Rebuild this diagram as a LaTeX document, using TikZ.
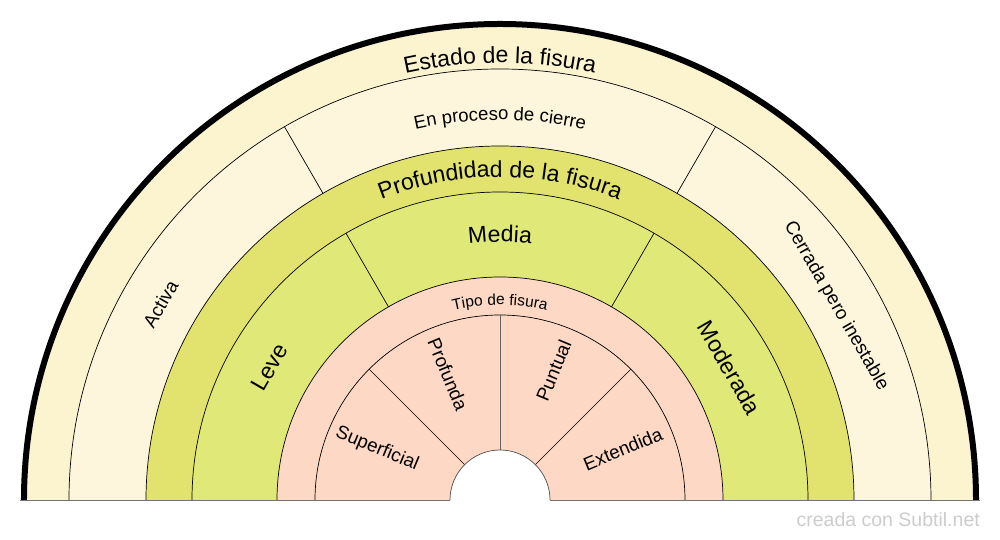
\documentclass[tikz,border=0pt]{standalone}
\usepackage{fontspec}
\setmainfont{Liberation Sans}
\usetikzlibrary{decorations.text}

\definecolor{estadoband}{HTML}{FCF3CF}
\definecolor{estadoring}{HTML}{FDF6DD}
\definecolor{profband}{HTML}{E1E36E}
\definecolor{profring}{HTML}{E0E977}
\definecolor{tipofill}{HTML}{FDD8C4}

% curved label: radius, font, text
\newcommand{\arclabel}[3]{%
  \path[decorate, decoration={text along path, text align=center, text={|#2|#3}}]
    (120:#1) arc[start angle=120, end angle=60, radius=#1];}

\begin{document}
\begin{tikzpicture}[x=1pt, y=1pt,
    ring/.style={draw=black, line width=0.7pt},
    small/.style={font=\fontsize{18.8}{18.8}\selectfont, inner sep=0pt},
    big/.style={font=\fontsize{23}{23}\selectfont, inner sep=0pt}]
    \useasboundingbox (-500,-40) rectangle (500,500);
    % rings, outside in
    \fill[estadoband] (-473,0) arc[start angle=180, end angle=0, radius=473];
    \filldraw[fill=estadoring, ring] (-431,0) arc[start angle=180, end angle=0, radius=431];
    \filldraw[fill=profband, ring] (-354,0) arc[start angle=180, end angle=0, radius=354];
    \filldraw[fill=profring, ring] (-308,0) arc[start angle=180, end angle=0, radius=308];
    \filldraw[fill=tipofill, ring] (-223,0) arc[start angle=180, end angle=0, radius=223];
    \draw[ring] (-185,0) arc[start angle=180, end angle=0, radius=185];
    % dividers
    \foreach \a in {60,120} \draw[ring] (\a:354) -- (\a:431);
    \foreach \a in {60,120} \draw[ring] (\a:223) -- (\a:308);
    \foreach \a in {45,135} \draw[ring] (\a:50) -- (\a:185);
    \draw[ring, draw=black!60] (90:50) -- (90:185);
    % hole
    \filldraw[fill=white, ring, draw=black!70] (-50,0) arc[start angle=180, end angle=0, radius=50];
    % outer rim and base line
    \draw[line width=6pt] (-476,0) arc[start angle=180, end angle=0, radius=476];
    \draw[black!55, line width=0.8pt] (-480,0) -- (-50,0);
    \draw[black!55, line width=0.8pt] (50,0) -- (480,0);
    % curved titles
    \arclabel{437}{\fontsize{23}{23}\selectfont}{Estado de la fisura}
    \arclabel{380}{\fontsize{18.5}{18.5}\selectfont}{En proceso de cierre}
    \arclabel{323}{\fontsize{23}{23}\selectfont}{Profundidad de la fisura}
    \arclabel{258}{\fontsize{23}{23}\selectfont}{Media}
    \arclabel{195}{\fontsize{15.5}{15.5}\selectfont}{Tipo de fisura}
    % segment labels
    \node[small, rotate=60] (activa) at (150:392) {Activa};
    \node[small, rotate=-60] (cerrada) at (30:388) {Cerrada pero inestable};
    \node[big, rotate=60] (leve) at (150:266) {Leve};
    \node[big, rotate=-60] (moderada) at (30:265) {Moderada};
    \node[small, rotate=-22.5] (superficial) at (157.5:133) {Superficial};
    \node[small, rotate=-67.5] (profunda) at (112.5:136) {Profunda};
    \node[small, rotate=67.5] (puntual) at (67.5:140) {Puntual};
    \node[small, rotate=22.5] (extendida) at (22.5:133) {Extendida};
    \node[anchor=base east, font=\fontsize{19.5}{19.5}\selectfont, text=black!20, inner sep=0pt] (credito) at (480,-27) {creada con Subtil.net};
\end{tikzpicture}
\end{document}
